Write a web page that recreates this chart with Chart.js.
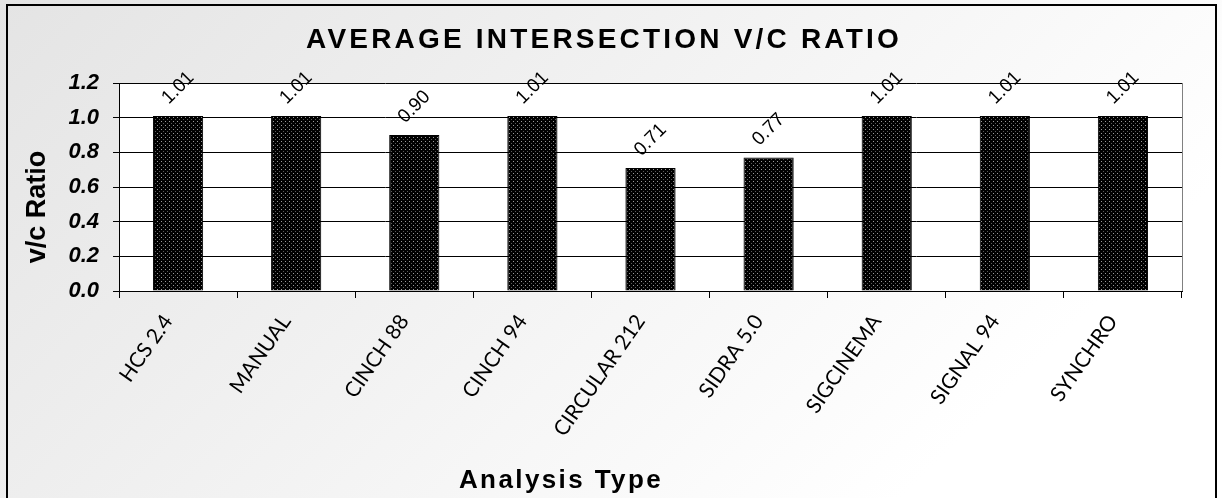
<!DOCTYPE html>
<html>
<head>
<meta charset="utf-8">
<script src="https://cdn.jsdelivr.net/npm/chart.js@4.4.1/dist/chart.umd.min.js"></script>
<style>
  html, body { margin: 0; padding: 0; background: #fff; }
  #wrap { width: 1222px; height: 498px; }
</style>
</head>
<body>
<div id="wrap"><canvas id="barChart"></canvas></div>
<script>
var categories = ['HCS 2.4', 'MANUAL', 'CINCH 88', 'CINCH 94', 'CIRCULAR 212', 'SIDRA 5.0', 'SIGCINEMA', 'SIGNAL 94', 'SYNCHRO'];
var vcRatio = [1.01, 1.01, 0.90, 1.01, 0.71, 0.77, 1.01, 1.01, 1.01];
var chartTitle = 'AVERAGE INTERSECTION V/C RATIO';
var yTitle = 'v/c Ratio';
var xTitle = 'Analysis Type';

// dotted black fill like the old excel pattern
function dotPattern() {
    var c = document.createElement('canvas');
    c.width = 4; c.height = 4;
    var g = c.getContext('2d');
    g.fillStyle = '#000';
    g.fillRect(0, 0, 4, 4);
    g.fillStyle = '#9a9a9a';
    g.fillRect(1, 1, 1, 1);
    g.fillStyle = '#5a5a5a';
    g.fillRect(3, 3, 1, 1);
    return g.createPattern(c, 'repeat');
}

var backdrop = {
    id: 'backdrop',
    beforeDraw: function(chart) {
        var ctx = chart.ctx, a = chart.chartArea;
        ctx.save();
        var grad = ctx.createLinearGradient(0, 0, 700, 700);
        grad.addColorStop(0, '#e4e4e4');
        grad.addColorStop(1, '#ffffff');
        ctx.fillStyle = grad;
        ctx.fillRect(0, 0, chart.width, chart.height);
        ctx.fillStyle = '#ffffff';
        ctx.fillRect(a.left, a.top, a.right - a.left, a.bottom - a.top);
        ctx.restore();
    },
    afterDraw: function(chart) {
        var ctx = chart.ctx, a = chart.chartArea;
        ctx.save();
        // plot right edge
        ctx.strokeStyle = '#808080';
        ctx.lineWidth = 1;
        ctx.beginPath();
        ctx.moveTo(Math.round(a.right) + 0.5, a.top);
        ctx.lineTo(Math.round(a.right) + 0.5, a.bottom);
        ctx.stroke();
        // outer frame
        ctx.strokeStyle = '#000';
        ctx.lineWidth = 2;
        ctx.strokeRect(7, 5, 1209, 500);
        // title
        ctx.fillStyle = '#000';
        ctx.font = 'bold 28px "Liberation Sans", Arial, sans-serif';
        ctx.letterSpacing = '3.2px';
        ctx.textAlign = 'center';
        ctx.textBaseline = 'alphabetic';
        ctx.fillText(chartTitle, 604, 48);
        // x axis title
        ctx.letterSpacing = '2.4px';
        ctx.font = 'bold 26px "Liberation Sans", Arial, sans-serif';
        ctx.fillText(xTitle, 561, 488);
        ctx.letterSpacing = '0px';
        // y axis title
        ctx.translate(38, 207);
        ctx.rotate(-Math.PI / 2);
        ctx.textBaseline = 'middle';
        ctx.font = 'bold 27px "Liberation Sans", Arial, sans-serif';
        ctx.fillText(yTitle, 0, 0);
        ctx.restore();
    }
};

var barLabels = {
    id: 'barLabels',
    afterDatasetsDraw: function(chart) {
        var ctx = chart.ctx;
        var meta = chart.getDatasetMeta(0);
        ctx.save();
        ctx.fillStyle = '#000';
        ctx.font = '19px "Liberation Sans", Arial, sans-serif';
        ctx.textAlign = 'center';
        ctx.textBaseline = 'middle';
        meta.data.forEach(function(bar, i) {
            ctx.save();
            ctx.translate(bar.x, bar.y - 28);
            ctx.rotate(-Math.PI / 4);
            ctx.fillText(vcRatio[i].toFixed(2), 0, 0);
            ctx.restore();
        });
        ctx.restore();
    }
};

var ctx = document.getElementById('barChart').getContext('2d');
var myChart = new Chart(ctx, {
    type: 'bar',
    data: {
        labels: categories,
        datasets: [{
            label: yTitle,
            data: vcRatio,
            backgroundColor: dotPattern(),
            borderColor: '#000',
            borderWidth: 1,
            barPercentage: 0.85,
            categoryPercentage: 0.5
        }]
    },
    options: {
        responsive: true,
        maintainAspectRatio: false,
        animation: false,
        layout: {
            padding: { top: 83, left: 0, right: 40, bottom: 0 }
        },
        plugins: {
            legend: { display: false },
            tooltip: { enabled: false }
        },
        scales: {
            x: {
                afterFit: function(scale) { scale.height = 207; },
                grid: {
                    offset: true,
                    drawOnChartArea: false,
                    color: '#000',
                    tickLength: 7
                },
                border: { color: '#000', width: 1 },
                ticks: {
                    color: '#000',
                    font: { family: 'Lato, "DejaVu Sans", sans-serif', size: 21, weight: 'normal' },
                    minRotation: 55,
                    maxRotation: 55,
                    padding: 12,
                    labelOffset: -10
                }
            },
            y: {
                min: 0,
                max: 1.2,
                afterFit: function(scale) { scale.width = 119; },
                grid: {
                    color: '#000',
                    tickLength: 6
                },
                border: { color: '#000', width: 1 },
                ticks: {
                    stepSize: 0.2,
                    color: '#000',
                    font: { family: '"Liberation Sans", Arial, sans-serif', size: 22, weight: 'bold', style: 'italic' },
                    padding: 14,
                    callback: function(v) { return v.toFixed(1); }
                }
            }
        }
    },
    plugins: [backdrop, barLabels]
});
</script>
</body>
</html>
